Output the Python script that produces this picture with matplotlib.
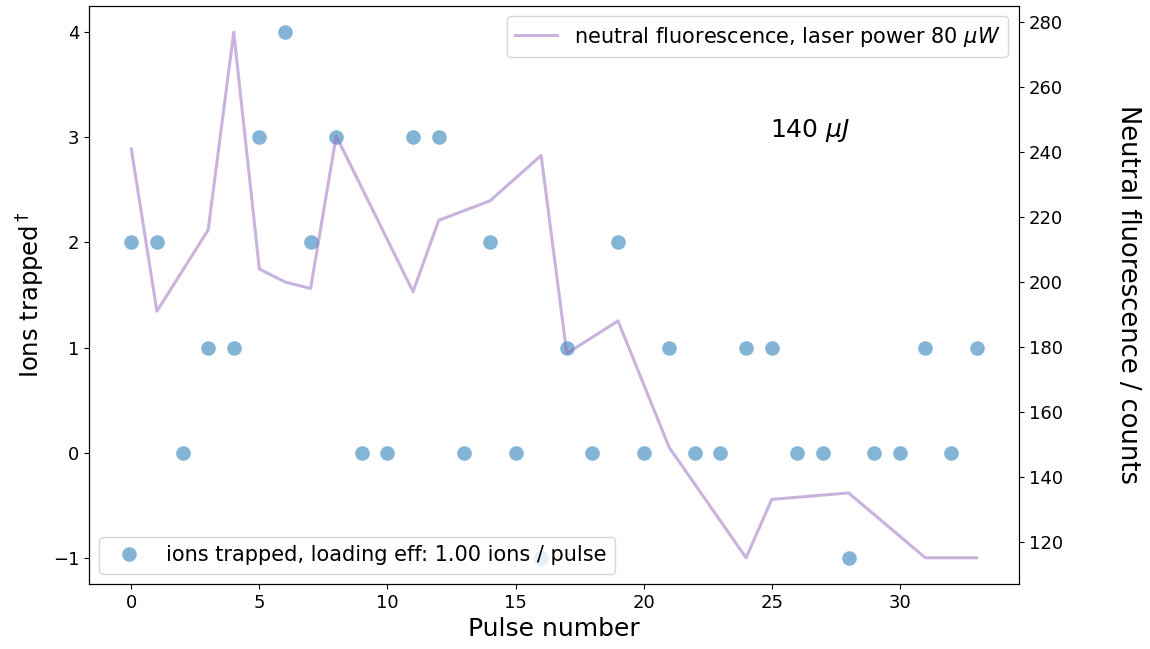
import matplotlib
matplotlib.use('Agg')
import matplotlib.pyplot as plt

# Ions trapped per pulse (left axis)
pulse = list(range(34))
ions = [2, 2, 0, 1, 1, 3, 4, 2, 3, 0, 0, 3, 3, 0, 2, 0, -1, 1, 0, 2,
        0, 1, 0, 0, 1, 1, 0, 0, -1, 0, 0, 1, 0, 1]

# Neutral fluorescence (right axis), measured on a subset of pulses
fluor_pulse = [0, 1, 3, 4, 5, 6, 7, 8, 11, 12, 14, 16, 17, 19, 21, 24, 25, 28, 31, 33]
fluor_counts = [241, 191, 216, 277, 204, 200, 198, 245, 197, 219, 225, 239,
                178, 188, 149, 115, 133, 135, 115, 115]

fig, ax1 = plt.subplots(figsize=(11.5, 6.49), dpi=100)
fig.subplots_adjust(left=0.0774, right=0.886, top=0.991, bottom=0.1)

ax1.plot(pulse, ions, 'o', color='#1f77b4', alpha=0.55, markersize=10.5,
         markeredgewidth=0, label='ions trapped, loading eff: 1.00 ions / pulse')
ax1.set_xlabel('Pulse number', fontsize=18)
ax1.set_ylabel(r'Ions trapped$^\dagger$', fontsize=17.5)
ax1.tick_params(labelsize=13)

ax2 = ax1.twinx()
ax2.plot(fluor_pulse, fluor_counts, color='#9467bd', alpha=0.5, linewidth=2.2,
         label=r'neutral fluorescence, laser power 80 $\mu W$')
ax2.set_ylabel('Neutral fluorescence / counts', fontsize=18.5, rotation=270, labelpad=56)
ax2.tick_params(labelsize=13)

ax1.legend(loc='lower left', fontsize=15)
ax2.legend(loc='upper right', fontsize=15)

ax1.text(0.776, 0.785, r'140 $\mu J$', transform=ax1.transAxes,
         fontsize=18, ha='center', va='center')

fig.savefig('out.png')
